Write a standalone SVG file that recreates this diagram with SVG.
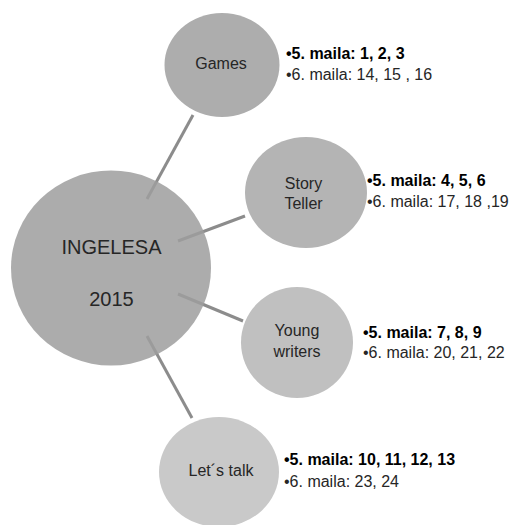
<svg xmlns="http://www.w3.org/2000/svg" width="517" height="525" viewBox="0 0 517 525">
<style>
.lbl{font-family:"Liberation Sans",Arial,sans-serif;font-size:16px;fill:#262626;text-anchor:middle}
.big{font-size:20px}
.b1{font-family:"Liberation Sans",Arial,sans-serif;font-size:16px;font-weight:bold;fill:#000}
.b2{font-family:"Liberation Sans",Arial,sans-serif;font-size:16px;fill:#262626}
.conn{stroke:#8c8c8c;stroke-width:3;fill:none}
</style>
<rect width="517" height="525" fill="#fff"/>
<g id="connectors">
<line class="conn" x1="193" y1="115" x2="147" y2="199"/>
<line class="conn" x1="178" y1="241" x2="245" y2="216"/>
<line class="conn" x1="178" y1="294" x2="243" y2="321"/>
<line class="conn" x1="147" y1="336" x2="192" y2="418"/>
</g>
<g id="center">
<ellipse cx="111" cy="268" rx="100" ry="97.5" fill="#9e9e9e" fill-opacity="0.855"/>
<text class="lbl big" x="111.5" y="254">INGELESA</text>
<text class="lbl big" x="111.5" y="306">2015</text>
</g>
<g id="games">
<ellipse cx="222" cy="65" rx="57.5" ry="52" fill="#adadad"/>
<text class="lbl" x="221" y="69">Games</text>
<text class="b1" x="286" y="59">•5. maila: 1, 2, 3</text>
<text class="b2" x="286" y="80">•6. maila: 14, 15 , 16</text>
</g>
<g id="story">
<ellipse cx="306" cy="192.5" rx="61" ry="55.5" fill="#b4b4b4"/>
<text class="lbl" x="303.5" y="189">Story</text>
<text class="lbl" x="303.5" y="209">Teller</text>
<text class="b1" x="367" y="186">•5. maila: 4, 5, 6</text>
<text class="b2" x="367" y="207">•6. maila: 17, 18 ,19</text>
</g>
<g id="young">
<ellipse cx="297" cy="342.5" rx="56" ry="55.5" fill="#c0c0c0"/>
<text class="lbl" x="297" y="336">Young</text>
<text class="lbl" x="297" y="357">writers</text>
<text class="b1" x="363" y="338">•5. maila: 7, 8, 9</text>
<text class="b2" x="363" y="358">•6. maila: 20, 21, 22</text>
</g>
<g id="letstalk">
<ellipse cx="219" cy="472" rx="60" ry="55" fill="#c9c9c9"/>
<text class="lbl" x="221" y="476">Let´s talk</text>
<text class="b1" x="284" y="465">•5. maila: 10, 11, 12, 13</text>
<text class="b2" x="284" y="487">•6. maila: 23, 24</text>
</g>
</svg>
